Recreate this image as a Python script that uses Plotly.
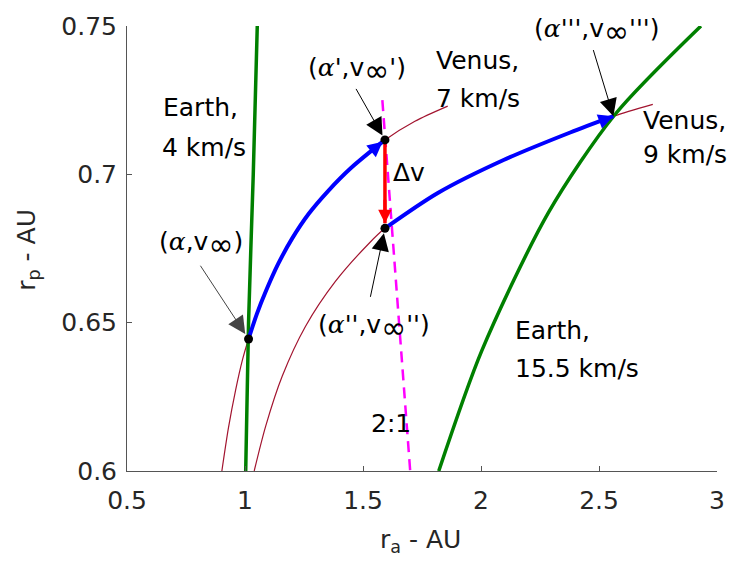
import plotly.graph_objects as go

# ---------------- data ----------------
earth4_ra = [1.003, 1.015, 1.035, 1.052]
earth4_rp = [0.600, 0.650, 0.700, 0.750]

earth155_ra = [1.821, 2.003, 2.285, 2.566, 2.932]
earth155_rp = [0.600, 0.6405, 0.687, 0.720, 0.750]

venus7_ra = [0.902, 0.930, 0.960, 0.990, 1.015, 1.050, 1.090, 1.140, 1.200, 1.270,
             1.350, 1.450, 1.593, 1.720, 1.859]
venus7_rp = [0.600, 0.6146, 0.6272, 0.6377, 0.6445, 0.6529, 0.6609, 0.6697, 0.6784, 0.6867,
             0.6942, 0.7022, 0.7116, 0.7179, 0.7230]

venus9_ra = [1.039, 1.088, 1.158, 1.256, 1.383, 1.525, 1.593, 1.817, 2.098, 2.378, 2.561, 2.728]
venus9_rp = [0.600, 0.6152, 0.632, 0.6487, 0.6639, 0.6767, 0.6818, 0.6937, 0.7049, 0.7141, 0.7196, 0.7236]

transfer1_ra = [1.015, 1.050, 1.090, 1.140, 1.200, 1.270, 1.350, 1.450, 1.593]
transfer1_rp = [0.6445, 0.6529, 0.6609, 0.6697, 0.6784, 0.6867, 0.6942, 0.7022, 0.7116]

transfer2_ra = [1.593, 1.817, 2.098, 2.378, 2.561]
transfer2_rp = [0.6818, 0.6937, 0.7049, 0.7141, 0.7196]

resonance_ra = [1.582, 1.700]
resonance_rp = [0.725, 0.600]

dv_ra = [1.593, 1.593]
dv_rp = [0.7116, 0.6835]

dots_ra = [1.015, 1.593, 1.593]
dots_rp = [0.6445, 0.7116, 0.6818]

x_ticks = [0.5, 1, 1.5, 2, 2.5, 3]
x_ticktext = ["0.5", "1", "1.5", "2", "2.5", "3"]
y_ticks = [0.6, 0.65, 0.7, 0.75]
y_ticktext = ["0.6", "0.65", "0.7", "0.75"]

FONT = "DejaVu Sans"
FS = 25
GREEN = "#008000"
THIN = "#A2142F"

fig = go.Figure()

def line(xs, ys, color, width, dash=None, shape="spline"):
    fig.add_trace(go.Scatter(x=xs, y=ys, mode="lines",
                             line=dict(color=color, width=width, dash=dash, shape=shape, smoothing=0.8),
                             hoverinfo="skip", showlegend=False))

line(venus7_ra, venus7_rp, THIN, 1.2)
line(venus9_ra, venus9_rp, THIN, 1.2)
line(earth4_ra, earth4_rp, GREEN, 3.5)
line(earth155_ra, earth155_rp, GREEN, 3.5)
line(resonance_ra, resonance_rp, "#FF00FF", 2.5, dash="11px,7px", shape="linear")
line(transfer1_ra, transfer1_rp, "#0000FF", 4)
line(transfer2_ra, transfer2_rp, "#0000FF", 4)
line(dv_ra, dv_rp, "#FF0000", 3.5, shape="linear")

fig.add_trace(go.Scatter(x=dots_ra, y=dots_rp, mode="markers",
                         marker=dict(color="black", size=9), cliponaxis=False,
                         hoverinfo="skip", showlegend=False))

annotations = []

def text(x, y, s, size=FS, xanchor="left", yanchor="middle"):
    annotations.append(dict(x=x, y=y, xref="x", yref="y", text=s, showarrow=False,
                            xanchor=xanchor, yanchor=yanchor,
                            font=dict(family=FONT, size=size, color="black")))

def arrow(tip_x, tip_y, tail_x, tail_y, color="black", width=1, size=3.5, standoff=0, head=2):
    annotations.append(dict(x=tip_x, y=tip_y, ax=tail_x, ay=tail_y, xref="x", yref="y",
                            axref="x", ayref="y", text="", showarrow=True,
                            arrowhead=head, arrowsize=size, arrowwidth=width,
                            arrowcolor=color, standoff=standoff))

A = "<span style='font-family:DejaVu Serif'><i>α</i></span>"
INF = "<sub><span style='font-size:30px'>∞</span></sub>"

text(0.643, 0.7225, "Earth,")
text(0.639, 0.7092, "4 km/s")
text(1.800, 0.7385, "Venus,")
text(1.800, 0.7256, "7 km/s")
text(2.680, 0.7181, "Venus,")
text(2.680, 0.7066, "9 km/s")
text(2.137, 0.6472, "Earth,")
text(2.137, 0.6345, "15.5 km/s")
text(1.619, 0.7007, "Δv")
text(1.527, 0.6160, "2:1")
text(0.626, 0.6765, "(" + A + ",v" + INF + ")")
text(1.258, 0.7350, "(" + A + "',v" + INF + "')")
text(1.300, 0.6483, "(" + A + "'',v" + INF + "'')")
text(2.217, 0.7481, "(" + A + "''',v" + INF + "''')")

# pointer arrows to the states
arrow(dots_ra[0], dots_rp[0], 0.807, 0.6697, color="#444", standoff=6)
arrow(dots_ra[1], dots_rp[1], 1.467, 0.7293, standoff=5)
arrow(dots_ra[2], dots_rp[2], 1.530, 0.6582, standoff=5)
arrow(transfer2_ra[-1], transfer2_rp[-1], 2.474, 0.7424, standoff=0)

# arrowheads on the transfer arcs and the delta-v
def head_on(xs, ys, color, width, size, standoff=0):
    tx, ty = xs[-1], ys[-1]
    px, py = xs[-2], ys[-2]
    f = 0.3
    arrow(tx, ty, tx - f * (tx - px), ty - f * (ty - py), color=color, width=width,
          size=size, standoff=standoff)

head_on(transfer1_ra, transfer1_rp, "#0000FF", 3, 1.0, standoff=3)
head_on(transfer2_ra, transfer2_rp, "#0000FF", 3, 1.0)
head_on(dv_ra, dv_rp, "#FF0000", 3, 0.9)

# axis titles
annotations.append(dict(x=0.498, y=-0.1575, xref="paper", yref="paper", showarrow=False,
                        text="r<sub>a</sub> - AU", xanchor="center", yanchor="middle",
                        font=dict(family=FONT, size=FS, color="#262626")))
annotations.append(dict(x=-0.168, y=0.497, xref="paper", yref="paper", showarrow=False,
                        text="r<sub>p</sub> - AU", textangle=-90, xanchor="center", yanchor="middle",
                        font=dict(family=FONT, size=FS, color="#262626")))

axis_common = dict(showgrid=False, zeroline=False, showline=True, linecolor="#555",
                   linewidth=1, ticks="inside", ticklen=5, tickcolor="#555",
                   tickfont=dict(family=FONT, size=FS, color="#262626"), mirror=False)

fig.update_layout(
    width=737, height=566,
    margin=dict(l=127, r=16, t=20, b=95),
    paper_bgcolor="white", plot_bgcolor="white",
    xaxis=dict(range=[0.5, 3], tickvals=x_ticks, ticktext=x_ticktext,
               ticklabelstandoff=7, **axis_common),
    yaxis=dict(range=[0.6, 0.75], tickvals=y_ticks, ticktext=y_ticktext,
               ticklabelstandoff=4, **axis_common),
    annotations=annotations,
    showlegend=False,
)

fig.write_html("out.html")
